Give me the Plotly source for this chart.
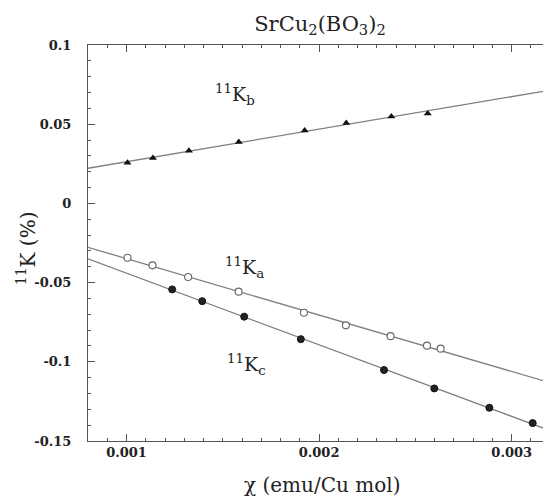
import numpy as np
import plotly.graph_objects as go

# Data (chi in emu/Cu mol, K in %)
chi_b = [0.001005, 0.001137, 0.001324, 0.001583, 0.001925, 0.002141, 0.002375, 0.002564]
K_b = [0.0257, 0.0286, 0.0333, 0.0387, 0.0461, 0.0507, 0.0549, 0.0568]

chi_a = [0.001005, 0.001135, 0.001320, 0.001582, 0.001921, 0.002139, 0.002371, 0.002560, 0.002631]
K_a = [-0.0343, -0.0391, -0.0465, -0.0557, -0.0690, -0.0770, -0.0838, -0.0898, -0.0917]

chi_c = [0.001237, 0.001393, 0.001611, 0.001905, 0.002337, 0.002598, 0.002884, 0.003109]
K_c = [-0.0543, -0.0617, -0.0715, -0.0857, -0.1052, -0.1168, -0.1290, -0.1387]

x_range = [0.000800, 0.003204]
y_range = [-0.15, 0.1]
x_ticks = [0.001, 0.002, 0.003]
x_ticklabels = ["0.001", "0.002", "0.003"]
y_ticks = [-0.15, -0.1, -0.05, 0, 0.05, 0.1]
y_ticklabels = ["-0.15", "-0.1", "-0.05", "0", "0.05", "0.1"]

SERIF = "DejaVu Serif"
LINE_COL = "#808080"
TXT = "#222222"

fig = go.Figure()
xfit = np.array(x_range)
for xs, ys in [(chi_b, K_b), (chi_a, K_a), (chi_c, K_c)]:
    m, c = np.polyfit(xs, ys, 1)
    fig.add_trace(go.Scatter(x=xfit, y=m * xfit + c, mode="lines",
                             line=dict(color=LINE_COL, width=1.3),
                             hoverinfo="skip", showlegend=False))

fig.add_trace(go.Scatter(x=chi_b, y=K_b, mode="markers",
                         marker=dict(symbol="triangle-up", size=7, color="#111111"),
                         showlegend=False))
fig.add_trace(go.Scatter(x=chi_a, y=K_a, mode="markers",
                         marker=dict(symbol="circle", size=7, color="white",
                                     line=dict(color="#666666", width=1.1)),
                         showlegend=False))
fig.add_trace(go.Scatter(x=chi_c, y=K_c, mode="markers",
                         marker=dict(symbol="circle", size=7, color="#222222",
                                     line=dict(color="#111111", width=1)),
                         showlegend=False))

lab_font = dict(family=SERIF, size=19, color=TXT)
for txt, xx, yy in [("<sup>11</sup>K<sub>b</sub>", 0.001564, 0.0688),
                    ("<sup>11</sup>K<sub>a</sub>", 0.001612, -0.0404),
                    ("<sup>11</sup>K<sub>c</sub>", 0.001621, -0.1015)]:
    fig.add_annotation(x=xx, y=yy, text=txt, showarrow=False, font=lab_font)

# axis titles (placed as in the reference)
fig.add_annotation(xref="paper", yref="paper", x=0.505, y=-0.11, text="χ (emu/Cu mol)",
                   showarrow=False, xanchor="center", yanchor="middle",
                   font=dict(family=SERIF, size=20, color=TXT))
fig.add_annotation(xref="paper", yref="y", x=-0.132, y=-0.0284, text="<sup>11</sup>K (%)",
                   showarrow=False, textangle=-90, xanchor="center", yanchor="middle",
                   font=dict(family=SERIF, size=20, color=TXT))

axis_common = dict(showgrid=False, zeroline=False, showline=True, linecolor="#555555",
                   linewidth=1, mirror="ticks", ticks="inside", tickcolor="#555555",
                   ticklen=7, tickwidth=1,
                   tickfont=dict(family=SERIF, size=13, color=TXT, weight="bold"))

fig.update_xaxes(range=x_range, tickvals=x_ticks, ticktext=x_ticklabels,
                 minor=dict(dtick=0.0001, tick0=0, ticks="inside", ticklen=3,
                            tickcolor="#555555"),
                 ticklabelstandoff=-1,
                 **axis_common)
fig.update_yaxes(range=y_range, tickvals=y_ticks, ticktext=y_ticklabels,
                 minor=dict(dtick=0.01, tick0=0, ticks="inside", ticklen=3,
                            tickcolor="#555555"),
                 ticklabelstandoff=13,
                 **axis_common)

# the page body adds an 8 px offset, so the figure is 543x493
fig.update_layout(
    width=543, height=493,
    margin=dict(l=80, r=0, t=37, b=60),
    paper_bgcolor="white", plot_bgcolor="white",
    font=dict(family=SERIF),
    title=dict(text="SrCu<sub>2</sub>(BO<sub>3</sub>)<sub>2</sub>", x=0.5746, xanchor="center",
               y=0.984, yanchor="top",
               font=dict(family=SERIF, size=21, color=TXT)),
)

fig.write_html("out.html")
